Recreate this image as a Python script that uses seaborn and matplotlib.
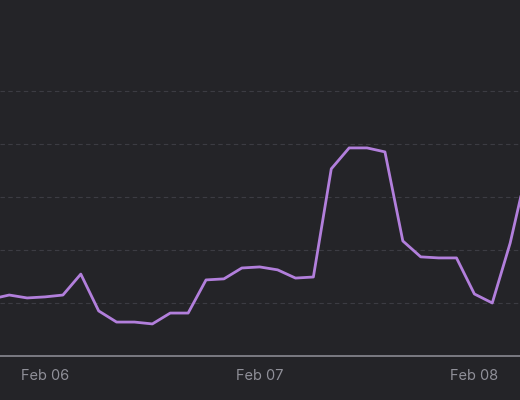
import pandas as pd
import matplotlib
matplotlib.use("Agg")
import matplotlib.pyplot as plt
import matplotlib.dates as mdates
import seaborn as sns

# readings every 2 hours, Feb 05 18:00 -> Feb 08 06:00
start_time = "2024-02-05 18:00"
values = [21.5, 23.0, 21.9, 22.3, 23.0, 30.9, 17.0, 12.8, 12.8, 12.1, 16.2,
          16.2, 28.7, 29.1, 33.2, 33.6, 32.5, 29.4, 29.8, 70.6, 78.5, 78.5,
          77.0, 43.4, 37.4, 37.0, 37.0, 23.4, 20.0, 42.6, 72.0]
y_ticks = [20, 40, 60, 80, 100]

times = pd.date_range(start_time, periods=len(values), freq="2h")
df = pd.DataFrame({"time": times, "value": values})

bg = "#242428"
sns.set_theme(style="dark")
plt.rcParams["font.family"] = ["Inter", "DejaVu Sans"]

fig = plt.figure(figsize=(5.2, 4.0), dpi=100, facecolor=bg)
ax = fig.add_axes([0, 0.11, 1, 0.89])
ax.set_facecolor(bg)

sns.lineplot(data=df, x="time", y="value", ax=ax, color="#b27fdc", linewidth=2)

ax.set_xlim(pd.Timestamp("2024-02-05 18:58"), pd.Timestamp("2024-02-08 05:06"))
ax.set_ylim(0, 134.3)
ax.set_yticks(y_ticks)
ax.yaxis.grid(True, color="#3c3c43", linestyle=(0, (4, 3)), linewidth=0.8)
ax.xaxis.grid(False)
ax.tick_params(axis="y", left=False, labelleft=False)
ax.tick_params(axis="x", bottom=False, colors="#909099", labelsize=10.5, pad=3)

ax.xaxis.set_major_locator(mdates.DayLocator())
ax.xaxis.set_major_formatter(mdates.DateFormatter("%b %d"))

for side in ["top", "left", "right"]:
    ax.spines[side].set_visible(False)
ax.spines["bottom"].set_color("#8a8a92")
ax.spines["bottom"].set_linewidth(1.2)

ax.set_xlabel("")
ax.set_ylabel("")

fig.savefig("out.png", dpi=100, facecolor=bg)
